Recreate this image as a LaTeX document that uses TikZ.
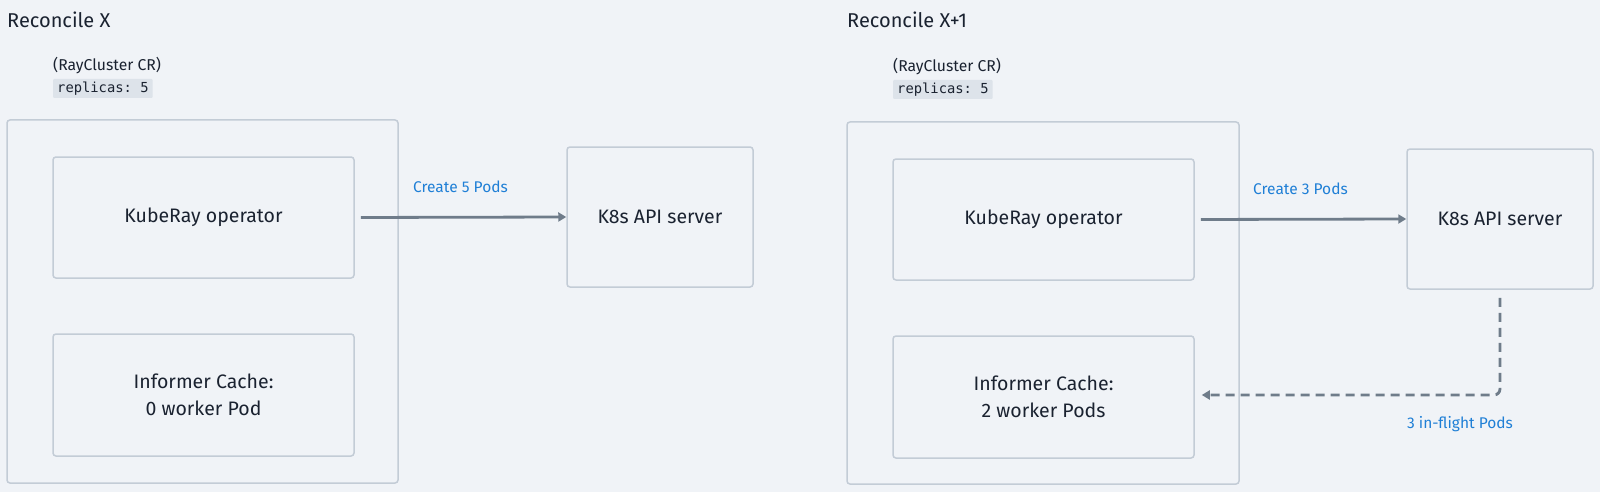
\documentclass[tikz,border=0pt]{standalone}
\usepackage{fontspec}
\setmainfont{Fira Sans}
\setmonofont{DejaVu Sans Mono}
\usetikzlibrary{arrows.meta}
\definecolor{bgc}{HTML}{F0F3F7}
\definecolor{boxc}{HTML}{C3CCD6}
\definecolor{arrc}{HTML}{6F7C8A}
\definecolor{bluec}{HTML}{1F7FD6}
\definecolor{txtc}{HTML}{1A2230}
\definecolor{codebg}{HTML}{DDE3EA}
\tikzset{
  outerbox/.style={draw=boxc, line width=1.5pt, rounded corners=3pt, minimum width=391pt, minimum height=363pt, inner sep=0pt},
  innerbox/.style={draw=boxc, line width=1.5pt, rounded corners=3pt, minimum width=301pt, minimum height=121pt, align=center, font=\fontsize{19.5}{27}\selectfont, text=txtc, inner sep=0pt},
  apibox/.style={draw=boxc, line width=1.5pt, rounded corners=3pt, minimum width=186pt, minimum height=140pt, font=\fontsize{19.5}{27}\selectfont, text=txtc, inner sep=0pt},
  title/.style={anchor=west, font=\fontsize{20}{24}\selectfont, text=txtc, inner sep=0pt},
  crlabel/.style={anchor=west, font=\fontsize{15.7}{18}\selectfont, text=txtc, inner sep=0pt},
  codelabel/.style={anchor=west, fill=codebg, font=\ttfamily\fontsize{13.8}{15}\selectfont, text=txtc, inner xsep=4pt, inner ysep=0pt, minimum height=19pt, rounded corners=1pt},
  bluelabel/.style={font=\fontsize{15.5}{18}\selectfont, text=bluec, inner sep=0pt},
  flow/.style={draw=arrc, line width=2.8pt, -{Triangle[length=8pt,width=9pt]}},
  dflow/.style={draw=arrc, line width=2.8pt, dash pattern=on 9pt off 6pt, -{Triangle[length=8pt,width=9pt]}, rounded corners=6pt}
}
\begin{document}
\begin{tikzpicture}[x=1pt,y=-1pt]
\useasboundingbox (0,0) rectangle (1600,492);
\fill[bgc] (0,0) rectangle (1600,492);
% Left
\node[title] (t1) at (7,20) {Reconcile X};
\node[crlabel] (cr1) at (53,66) {(RayCluster CR)};
\node[codelabel] (rep1) at (53,88.5) {replicas: 5};
\node[outerbox] (o1) at (202.5,301.5) {};
\node[innerbox] (k1) at (203.5,217.5) {KubeRay operator};
\node[innerbox, minimum height=122pt] (i1) at (203.5,395) {Informer Cache:\\0 worker Pod};
\node[apibox] (a1) at (660,217) {K8s API server};
\draw[flow, shorten <=6pt] (k1.east) -- (a1.west) node[bluelabel, midway, above=23pt] (l1) {Create 5 Pods};
% Right
\node[title] (t2) at (847,20) {Reconcile X+1};
\node[crlabel] (cr2) at (893,67) {(RayCluster CR)};
\node[codelabel] (rep2) at (893,89.5) {replicas: 5};
\node[outerbox, minimum width=392pt, minimum height=362pt] (o2) at (1043,303) {};
\node[innerbox] (k2) at (1043.5,219.5) {KubeRay operator};
\node[innerbox, minimum height=122pt] (i2) at (1043.5,397) {Informer Cache:\\2 worker Pods};
\node[apibox] (a2) at (1500,219) {K8s API server};
\draw[flow, shorten <=6pt] (k2.east) -- (a2.west) node[bluelabel, midway, above=23pt] (l2) {Create 3 Pods};
\coordinate (dstart) at ([yshift=-8pt]a2.south);
\coordinate (dend) at ([xshift=7pt,yshift=2pt]i2.east);
\draw[dflow] (dstart) |- (dend);
\node[bluelabel] (l3) at (1460,424) {3 in-flight Pods};
\end{tikzpicture}
\end{document}
